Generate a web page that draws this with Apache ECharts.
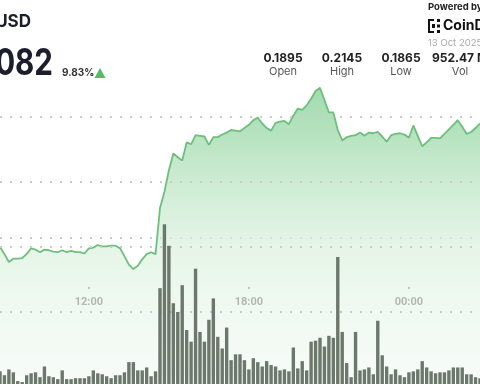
<!DOCTYPE html>
<html><head><meta charset="utf-8">
<script src="https://cdn.jsdelivr.net/npm/echarts@6/dist/echarts.min.js"></script>
<style>html,body{margin:0;padding:0;background:#fff;}#c{width:480px;height:384px;}</style>
</head><body><div id="c"></div>
<script>
// ---- data ----
const startMinute = 8 * 60 + 40;   // 08:40, first visible 10-minute slot
const stepMinutes = 10;
const tickLabels = ['12:00', '18:00', '00:00'];
const price = [
  0.1900,0.1889,0.1877,0.1882,0.1882,0.1883,0.1889,0.1898,0.1896,0.1892,
  0.1896,0.1895,0.1893,0.1892,0.1895,0.1892,0.1894,0.1892,0.1892,0.1890,
  0.1898,0.1899,0.1903,0.1901,0.1901,0.1902,0.1902,0.1898,0.1886,0.1873,
  0.1866,0.1871,0.1881,0.1889,0.1892,0.1889,0.1960,0.1985,0.2018,0.2044,
  0.2038,0.2033,0.2061,0.2058,0.2072,0.2071,0.2070,0.2057,0.2069,0.2069,
  0.2073,0.2076,0.2080,0.2079,0.2078,0.2083,0.2088,0.2095,0.2099,0.2090,
  0.2083,0.2079,0.2091,0.2093,0.2094,0.2089,0.2102,0.2113,0.2111,0.2118,
  0.2128,0.2140,0.2145,0.2126,0.2107,0.2107,0.2080,0.2064,0.2069,0.2071,
  0.2072,0.2076,0.2071,0.2076,0.2075,0.2077,0.2070,0.2062,0.2072,0.2074,
  0.2075,0.2073,0.2068,0.2087,0.2071,0.2055,0.2061,0.2068,0.2068,0.2067,
  0.2074,0.2081,0.2088,0.2095,0.2085,0.2074,0.2077,0.2083,0.2090
];
const volume = [ // millions
  2.6,1.8,3.0,2.4,0.6,0.4,1.8,2.2,2.4,1.4,
  3.6,1.6,1.4,1.0,2.8,1.0,1.0,1.2,1.2,1.2,
  1.6,2.8,2.2,2.0,1.6,1.2,1.8,1.8,2.4,4.5,
  4.5,2.8,2.8,3.4,1.6,2.6,19.7,32.8,28.4,16.6,
  14.8,20.3,11.1,8.7,23.7,10.7,8.7,13.2,17.6,9.7,
  7.3,11.6,4.9,6.1,6.1,4.9,3.0,5.3,4.5,3.6,
  4.7,3.9,3.6,2.8,3.0,2.6,7.5,3.2,4.7,2.8,
  8.7,8.9,9.5,7.7,9.9,9.5,26.1,10.7,4.3,1.4,
  10.7,2.8,3.0,3.4,2.0,13.0,5.9,3.6,2.0,3.0,
  1.8,1.4,2.4,2.6,3.0,4.7,3.4,2.6,2.2,2.4,
  2.4,2.8,3.4,3.4,3.4,2.0,2.0,1.4,1.2
];
const statValues = ['0.1895', '0.2145', '0.1865', '952.47 M'];
const statLabels = ['Open', 'High', 'Low', 'Vol'];
const pairLabel = 'USD';
const lastPrice = '0.2082';
const changePct = '9.83%';
const dateLabel = '13 Oct 2025';

// time categories (10-minute slots)
const times = price.map((_, i) => {
  const m = (startMinute + i * stepMinutes) % 1440;
  return String(Math.floor(m / 60)).padStart(2, '0') + ':' + String(m % 60).padStart(2, '0');
});

const chart = echarts.init(document.getElementById('c'), null, {renderer: 'canvas'});
const showTick = (i, v) => tickLabels.indexOf(v) >= 0;
const dotted = {type: [2, 8], width: 2};
const g = 'rgba(0,0,0,0)';
const gridC = '#cbcbcb';
const FONT = 'Inter, "Noto Sans", sans-serif';

const statX = [283, 342, 401, 460];
const graphics = [
  {type: 'text', x: 31, y: 22, style: {text: pairLabel, align: 'right', verticalAlign: 'middle', font: 'bold 17px ' + FONT, fill: '#1b1f2b'}},
  {type: 'text', x: 53, y: 64, scaleX: 0.8, style: {text: lastPrice, align: 'right', verticalAlign: 'middle', font: 'bold 37px ' + FONT, fill: '#1b1f2b'}},
  {type: 'text', x: 62, y: 73, style: {text: changePct, align: 'left', verticalAlign: 'middle', font: 'bold 10px ' + FONT, fill: '#333'}},
  {type: 'polygon', shape: {points: [[100, 68], [105.5, 78], [94.5, 78]]}, style: {fill: '#5bb865'}},
  {type: 'text', x: 428, y: 7, style: {text: 'Powered by', align: 'left', verticalAlign: 'middle', font: 'bold 9.5px ' + FONT, fill: '#222'}},
  {type: 'rect', shape: {x: 428, y: 19, width: 2, height: 14}, style: {fill: '#111'}},
  {type: 'rect', shape: {x: 428, y: 19, width: 6, height: 2}, style: {fill: '#111'}},
  {type: 'rect', shape: {x: 428, y: 31, width: 6, height: 2}, style: {fill: '#111'}},
  {type: 'rect', shape: {x: 432, y: 24, width: 3, height: 4}, style: {fill: '#111'}},
  {type: 'rect', shape: {x: 437, y: 19, width: 3, height: 3}, style: {fill: '#111'}},
  {type: 'rect', shape: {x: 437, y: 24.5, width: 3, height: 3}, style: {fill: '#111'}},
  {type: 'rect', shape: {x: 437, y: 30, width: 3, height: 3}, style: {fill: '#111'}},
  {type: 'text', x: 443, y: 26, style: {text: 'CoinDesk', align: 'left', verticalAlign: 'middle', font: 'bold 14px ' + FONT, fill: '#111'}},
  {type: 'text', x: 428, y: 43, style: {text: dateLabel, align: 'left', verticalAlign: 'middle', font: '9.5px ' + FONT, fill: '#aaa'}}
];
statValues.forEach((v, i) => {
  graphics.push({type: 'text', x: statX[i], y: 58, style: {text: v, align: 'center', verticalAlign: 'middle', font: 'bold 12px ' + FONT, fill: '#222'}});
  graphics.push({type: 'text', x: statX[i], y: 72, style: {text: statLabels[i], align: 'center', verticalAlign: 'middle', font: '11px ' + FONT, fill: '#555'}});
});

const option = {
  animation: false,
  backgroundColor: '#fff',
  grid: [
    {left: 0, right: 0, top: 52, height: 325},   // price
    {left: 0, right: 0, top: 92, height: 292},   // volume
    {left: 0, right: 0, top: 0, height: 287}     // time labels
  ],
  xAxis: [
    {type: 'category', gridIndex: 0, data: times, boundaryGap: false, axisLine: {show: false}, axisTick: {show: false}, axisLabel: {show: false}, splitLine: {show: false}},
    {type: 'category', gridIndex: 1, data: times, boundaryGap: false, axisLine: {show: false}, axisTick: {show: false}, axisLabel: {show: false}, splitLine: {show: false}},
    {type: 'category', gridIndex: 2, data: times, boundaryGap: false, axisLine: {show: false},
     axisTick: {show: true, interval: showTick, length: 2, lineStyle: {color: '#555', width: 2}},
     axisLabel: {show: true, interval: showTick, margin: 10, fontFamily: 'Roboto, sans-serif', fontWeight: 'bold', fontSize: 11, color: '#2b2b2b'},
     splitLine: {show: false}}
  ],
  yAxis: [
    {type: 'value', gridIndex: 0, min: 0.17, max: 0.22, interval: 0.01, z: 2, axisLine: {show: false}, axisTick: {show: false}, axisLabel: {show: false},
     splitLine: {show: true, lineStyle: Object.assign({color: [g, gridC, gridC, gridC, gridC, g]}, dotted)}},
    {type: 'value', gridIndex: 1, min: 0, max: 60, interval: 30, axisLine: {show: false}, axisTick: {show: false}, axisLabel: {show: false},
     splitLine: {show: true, lineStyle: Object.assign({color: [g, gridC, g]}, dotted)}},
    {type: 'value', gridIndex: 2, show: false}
  ],
  series: [
    {type: 'line', xAxisIndex: 0, yAxisIndex: 0, data: price, showSymbol: false, z: 1,
     lineStyle: {color: '#6dbf7e', width: 1.8},
     areaStyle: {color: new echarts.graphic.LinearGradient(0, 0, 0, 1, [
       {offset: 0, color: '#7ccb8b'}, {offset: 0.14, color: '#93d5a1'}, {offset: 0.32, color: '#b7e3bf'},
       {offset: 0.55, color: '#dbf1de'}, {offset: 0.73, color: '#e7f6e9'}, {offset: 1, color: '#f3faf4'}])}},
    {type: 'bar', xAxisIndex: 1, yAxisIndex: 1, data: volume, barWidth: 3.4, z: 3,
     itemStyle: {color: '#6d786d'}}
  ],
  graphic: graphics
};
chart.setOption(option);
</script>
</body></html>
